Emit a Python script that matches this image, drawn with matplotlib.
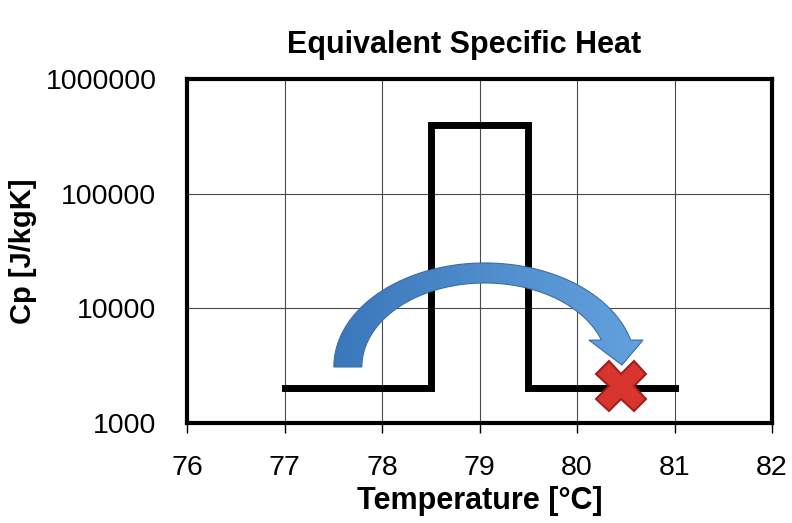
import matplotlib
matplotlib.use("Agg")
import numpy as np
import matplotlib.pyplot as plt
from matplotlib.ticker import FixedLocator, NullLocator
from matplotlib.patches import Polygon, Rectangle
from matplotlib.transforms import IdentityTransform
from matplotlib.colors import to_rgb

plt.rcParams['font.family'] = ['Liberation Sans', 'DejaVu Sans']

# data
temp = [77, 78.5, 78.5, 79.5, 79.5, 81]
cp = [2000, 2000, 400000, 400000, 2000, 2000]
x_ticks = [76, 77, 78, 79, 80, 81, 82]
y_ticks = [1000, 10000, 100000, 1000000]
y_tick_labels = ["1000", "10000", "100000", "1000000"]
arrow_tail = (77.65, 3080)
arrow_tip = (80.46, 3200)
cross_point = (80.45, 2100)

W, H = 792, 523
fig = plt.figure(figsize=(W / 100, H / 100), dpi=100)
ax = fig.add_axes([187 / W, 1 - 423 / H, (772 - 187) / W, (423 - 79) / H])

ax.set_yscale('log')
ax.set_xlim(76, 82)
ax.set_ylim(1000, 1000000)

ax.xaxis.set_major_locator(FixedLocator(x_ticks))
ax.set_xticklabels([str(t) for t in x_ticks])
ax.yaxis.set_major_locator(FixedLocator(y_ticks))
ax.set_yticklabels(y_tick_labels)
ax.yaxis.set_minor_locator(NullLocator())

ax.grid(True, which='major', color='#4a4a4a', lw=0.8)
ax.set_axisbelow(True)

for s in ax.spines.values():
    s.set_linewidth(3)
    s.set_color('black')

ax.tick_params(axis='x', direction='out', length=7, width=1, pad=16, labelsize=20.5)
ax.tick_params(axis='y', direction='out', length=0, width=1, pad=22, labelsize=20.5)

ax.plot(temp, cp, color='black', lw=5, solid_joinstyle='miter', zorder=3)

# curved block arrow (built in display pixels around the two data anchors)
T = ax.transData.transform(arrow_tail)
P = ax.transData.transform(arrow_tip)
base = T[1]
cx = (T[0] + P[0]) / 2
half_w = 14
a_o, a_i = cx - T[0] + half_w, cx - T[0] - half_w
b_o, b_i = 104, 84
head_y = P[1] + 25
dy = head_y - base
th_o = np.arcsin(dy / b_o)
th_i = np.arcsin(dy / b_i)
t_o = np.linspace(np.pi, th_o, 120)
t_i = np.linspace(th_i, np.pi, 120)
outer = np.column_stack([cx + a_o * np.cos(t_o), base + b_o * np.sin(t_o)])
inner = np.column_stack([cx + a_i * np.cos(t_i), base + b_i * np.sin(t_i)])
hx = (outer[-1, 0] + inner[0, 0]) / 2
head = np.array([[hx + 27, head_y], [P[0], P[1]], [hx - 27, head_y]])
pts = np.vstack([outer, head, inner])

poly = Polygon(pts, closed=True, transform=IdentityTransform(),
               facecolor='none', edgecolor='#3a6ea6', lw=0.8, zorder=5)
ax.add_patch(poly)
c0, c1 = np.array(to_rgb('#3a77bb')), np.array(to_rgb('#63a1dd'))
x0, x1 = pts[:, 0].min(), pts[:, 0].max()
y0, y1 = pts[:, 1].min(), pts[:, 1].max()
N = 80
for i in range(N):
    f = i / (N - 1)
    r = Rectangle((x0 + (x1 - x0) * i / N - 0.5, y0 - 2), (x1 - x0) / N + 1, y1 - y0 + 4,
                  transform=IdentityTransform(), facecolor=c0 + (c1 - c0) * f,
                  edgecolor='none', zorder=4)
    ax.add_patch(r)
    r.set_clip_path(poly)

ax.plot([cross_point[0]], [cross_point[1]], marker='X', markersize=36,
        markerfacecolor='#d8352f', markeredgecolor='#a01f1f', markeredgewidth=1.5,
        linestyle='none', zorder=6)

ax.set_title('Equivalent Specific Heat', fontsize=22, fontweight='bold', pad=19, x=0.474)
ax.set_xlabel('Temperature [°C]', fontsize=22, fontweight='bold', labelpad=4)
ax.set_ylabel('Cp [J/kgK]', fontsize=21, fontweight='bold', labelpad=6)

fig.savefig('out.png', dpi=100)
